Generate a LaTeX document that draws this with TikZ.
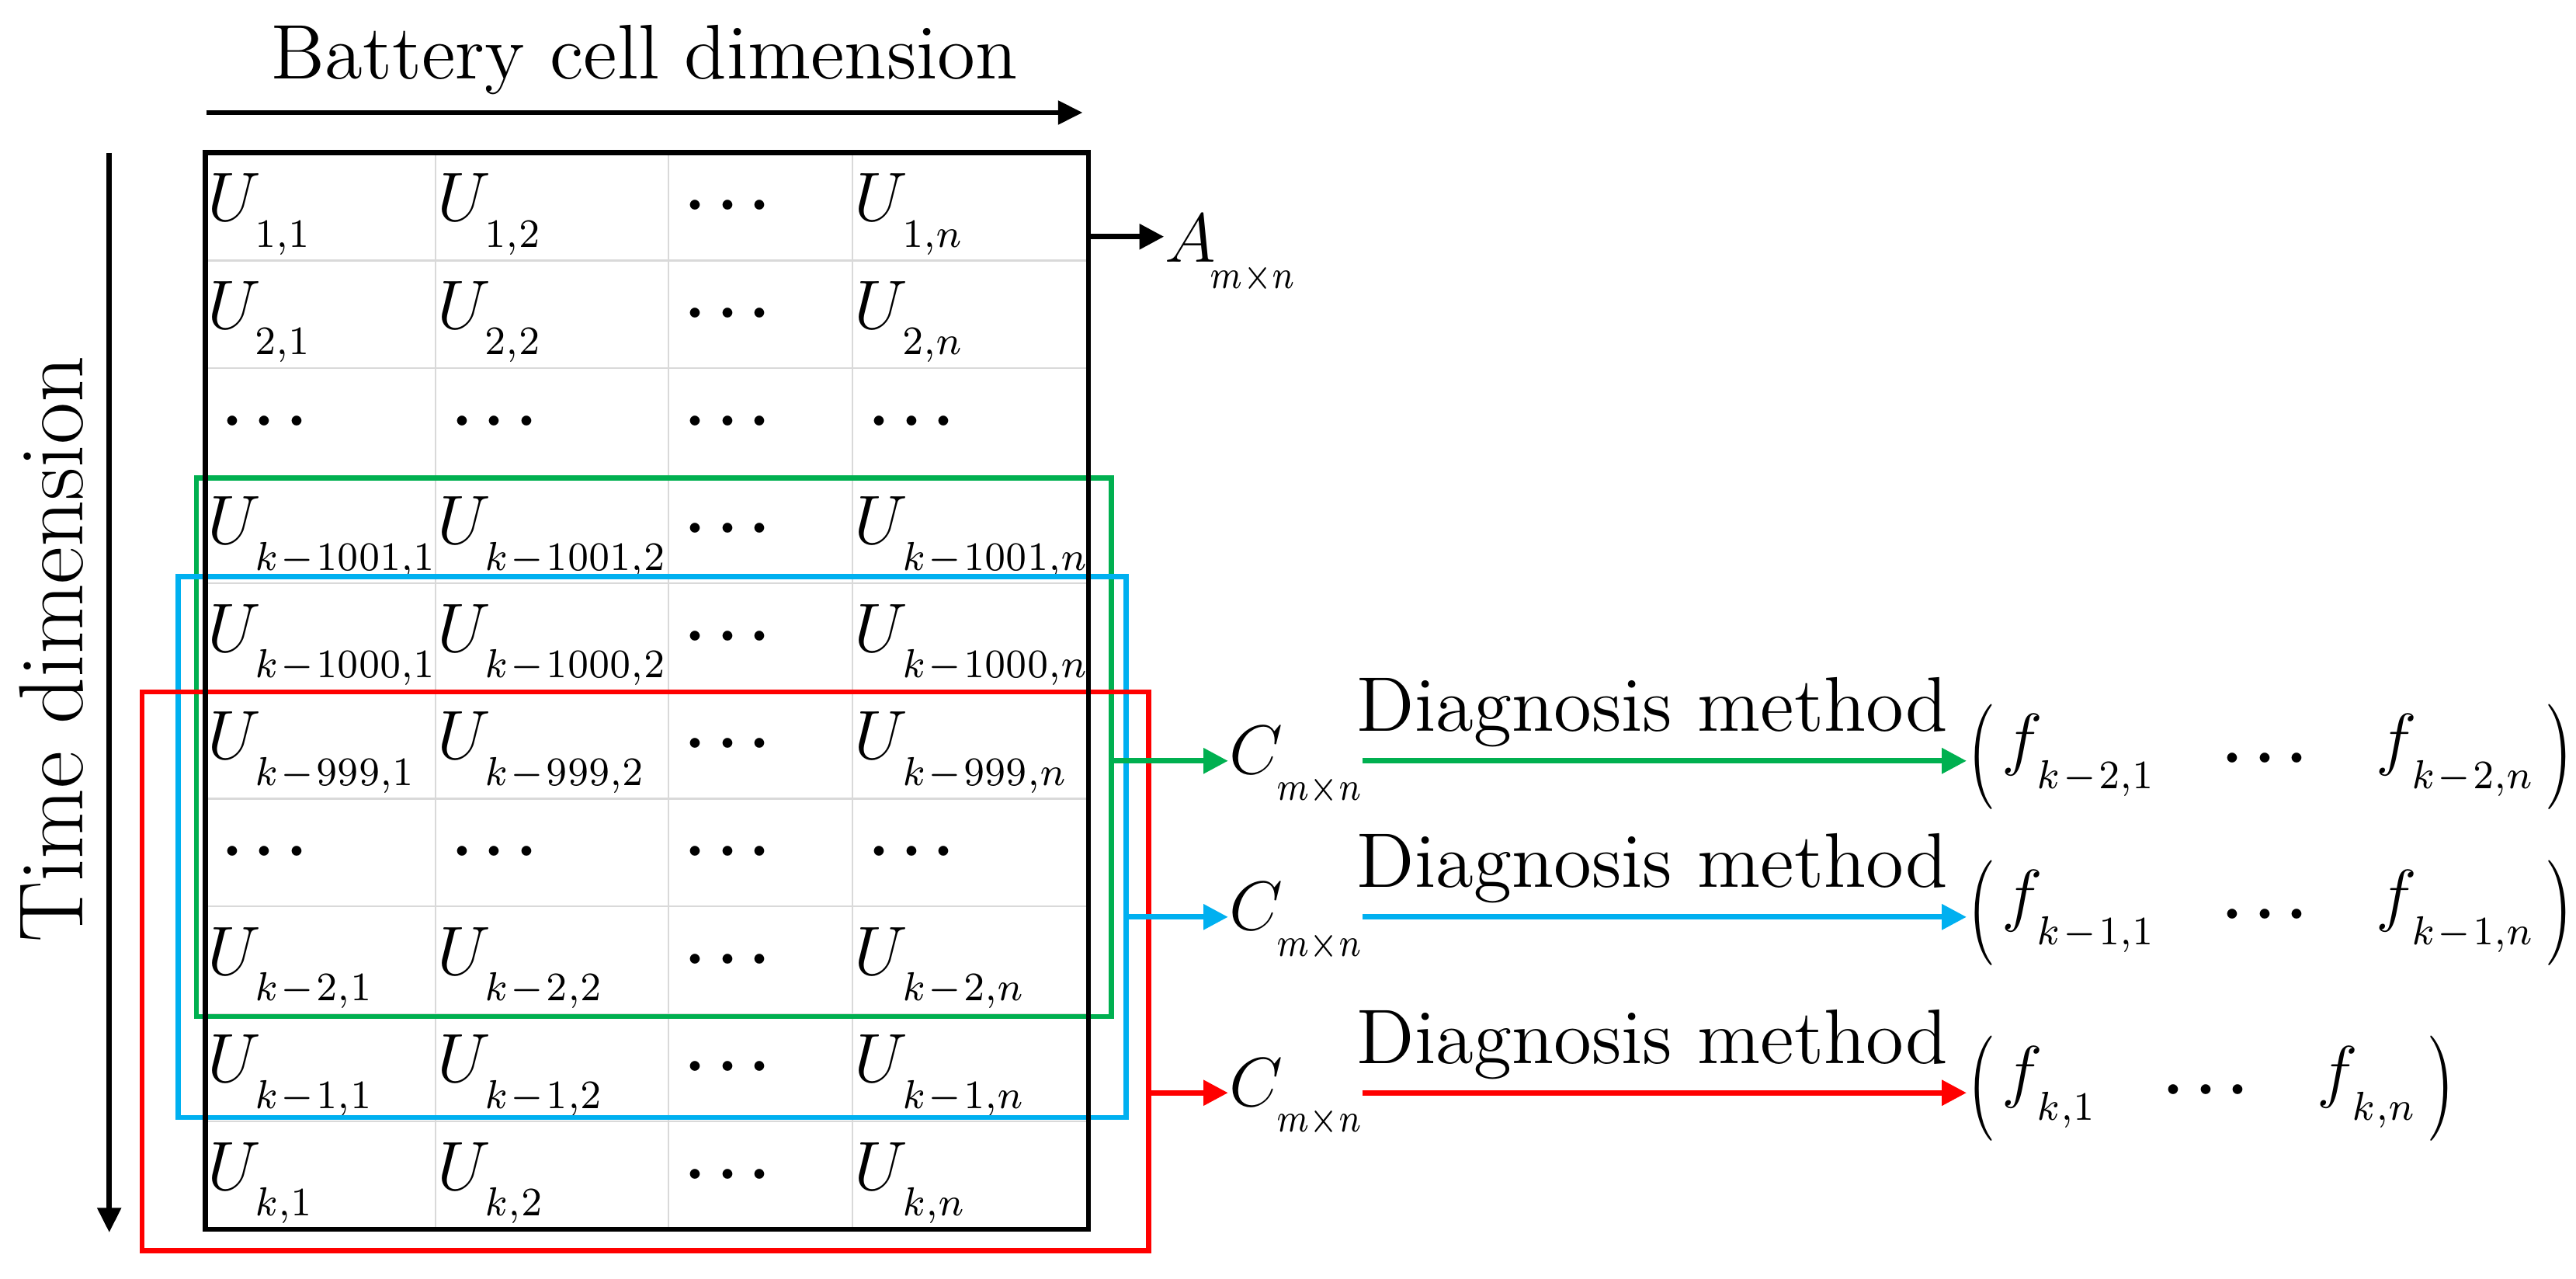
\documentclass[tikz,border=0pt]{standalone}
\usepackage{fontspec}
\usepackage{graphicx}
\usetikzlibrary{arrows.meta,fit}

\definecolor{wingreen}{HTML}{00B050}
\definecolor{wincyan}{HTML}{00B0F0}
\definecolor{winred}{HTML}{FF0000}

% element with a lowered, narrow subscript
\newcommand{\el}[3][0.92]{$#2$\kern-1pt\raisebox{-4.5pt}[0pt][0pt]{\scalebox{#1}[1]{\fontsize{7.5}{8}\selectfont\medmuskip=1mu\thinmuskip=0mu$#3$}}}
\newcommand{\dts}{{\fontsize{11}{11}\selectfont\boldmath$\cdots$}}
\newcommand{\lpar}{\raisebox{-0.125cm}{\scalebox{1}[1.4]{(}}}
\newcommand{\rpar}{\raisebox{-0.125cm}{\scalebox{1}[1.4]{)}}}
\newcommand{\fvec}[2]{\lpar\kern1pt#1\hspace{0.42cm}\raisebox{-1.9pt}{\dts}\hspace{0.42cm}#2\kern2pt\rpar}

\begin{document}
\begin{tikzpicture}[
    x=1cm,y=1cm,
    cell/.style={inner sep=0pt, anchor=base west, font=\fontsize{13}{15}\selectfont},
    cellline/.style={draw=black!15, line width=0.3pt},
    matframe/.style={draw, line width=0.9pt, inner sep=0pt},
    win/.style={draw=#1, line width=0.9pt, inner sep=0pt},
    mlabel/.style={inner sep=0pt, anchor=west, font=\fontsize{13}{15}\selectfont,
      text height=0.31cm, text depth=0.15cm},
    vlabel/.style={inner sep=0pt, anchor=west, font=\fontsize{13}{15}\selectfont,
      text height=0.30cm, text depth=0.28cm},
    dimtext/.style={font=\fontsize{13.4}{16}\selectfont, text=black},
    dimarrow/.style={-{Triangle[length=1.5mm,width=1.4mm]}, line width=0.9pt},
    link/.style={-{Triangle[length=1.5mm,width=1.5mm]}, line width=0.9pt}
  ]
    \useasboundingbox (0,0) rectangle (15.68,-7.78);

    % grid of the voltage matrix
    \foreach \x in {2.65,4.07,5.19}
      \draw[cellline] (\x,-0.93) -- (\x,-7.48);
    \foreach \r in {1,...,9}
      \draw[cellline] (1.25,{-0.93-0.655*\r}) -- (6.625,{-0.93-0.655*\r});

    \foreach \r/\s in {1/1,2/2,4/k-1001,5/k-1000,6/k-999,8/k-2,9/k-1,10/k}{
      \node[cell] (u\r-1) at (1.255,{-1.346-0.655*(\r-1)}) {\el{U}{\s,1}};
      \node[cell] (u\r-2) at (2.655,{-1.346-0.655*(\r-1)}) {\el{U}{\s,2}};
      \node[cell] (u\r-3) at (4.165,{-1.346-0.655*(\r-1)}) {\dts};
      \node[cell] (u\r-4) at (5.195,{-1.346-0.655*(\r-1)}) {\el{U}{\s,n}};
    }
    \foreach \r in {3,7}
      \foreach \x [count=\c] in {1.345,2.745,4.165,5.285}
        \node[cell] (u\r-\c) at (\x,{-1.346-0.655*(\r-1)}) {\dts};

    % sliding windows
    \node[win=wingreen, fit={(1.195,-2.91) (6.765,-6.185)}] (grn) {};
    \node[win=wincyan, fit={(1.085,-3.51) (6.855,-6.80)}] (cyn) {};
    \node[win=winred, fit={(0.865,-4.21) (6.99,-7.61)}] (rd) {};
    \node[matframe, fit={(1.25,-0.93) (6.625,-7.48)}] (mat) {};

    % dimension arrows
    \coordinate (b0) at (1.255,-0.685);
    \coordinate (b1) at (6.59,-0.685);
    \draw[dimarrow] (b0) -- node[dimtext, above, inner sep=2.6pt] (bdim) {Battery cell dimension} (b1);
    \coordinate (t0) at (0.665,-0.93);
    \coordinate (t1) at (0.665,-7.50);
    \draw[dimarrow] (t0) -- node[dimtext, pos=0.46, rotate=90, anchor=south, inner sep=4pt,
      font=\fontsize{15.8}{19}\selectfont] (tdim) {Time dimension} (t1);

    \node[mlabel, text depth=0cm] (am) at (7.085,-1.44) {\el[0.8]{A}{m{\times}n}};
    \draw[link] (mat.east |- am.west) -- (am.west);

    \node[mlabel] (cg) at (7.475,-4.63) {\el[0.8]{C}{m{\times}n}};
    \node[mlabel] (cc) at (7.475,-5.58) {\el[0.8]{C}{m{\times}n}};
    \node[mlabel] (cr) at (7.475,-6.65) {\el[0.8]{C}{m{\times}n}};

    \node[vlabel] (vg) at (11.97,-4.63) {\fvec{\el{f}{k-2,1}}{\el{f}{k-2,n}}};
    \node[vlabel] (vc) at (11.97,-5.58) {\fvec{\el{f}{k-1,1}}{\el{f}{k-1,n}}};
    \node[vlabel] (vr) at (11.97,-6.65) {\fvec{\el{f}{k,1}}{\el{f}{k,n}}};

    \draw[link, wingreen] (grn.east |- cg.west) -- (cg.west);
    \draw[link, wincyan] (cyn.east |- cc.west) -- (cc.west);
    \draw[link, winred] (rd.east |- cr.west) -- (cr.west);

    \draw[link, wingreen] (cg.east) -- node[dimtext, above, pos=0.48, inner sep=1.9pt] (dg) {Diagnosis method} (cg.east -| vg.west);
    \draw[link, wincyan] (cc.east) -- node[dimtext, above, pos=0.48, inner sep=1.9pt] (dc) {Diagnosis method} (cc.east -| vc.west);
    \draw[link, winred] (cr.east) -- node[dimtext, above, pos=0.48, inner sep=1.9pt] (dr) {Diagnosis method} (cr.east -| vr.west);
  \end{tikzpicture}
\end{document}
